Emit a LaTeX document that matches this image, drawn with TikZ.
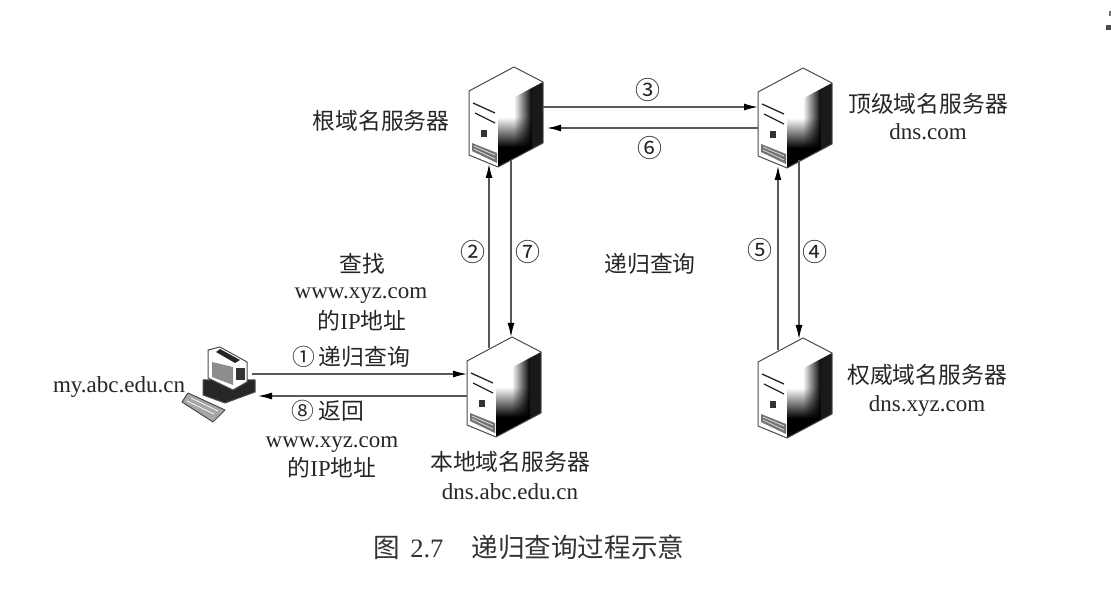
\documentclass[tikz,border=0pt]{standalone}
\usepackage{fontspec}
\setmainfont{Liberation Serif}
\newfontfamily\cjk{Noto Sans CJK SC}
\usetikzlibrary{arrows.meta,shadings,fadings}
\tikzset{
  serverframe/.style={minimum width=74pt,minimum height=100pt,inner sep=0pt,outer sep=0pt},
  pcframe/.style={minimum width=74pt,minimum height=76pt,inner sep=0pt,outer sep=0pt},
  link/.style={line width=1.3pt,draw=black!65,-{Latex[length=14pt,width=7pt,black]}},
  lbl/.style={inner sep=0pt,align=center,text=black!85,font=\fontsize{23}{28}\selectfont},
  num/.style={inner sep=0pt,text=black!85,font=\cjk\fontsize{25}{26}\selectfont},
  zh/.style={inner sep=0pt,align=center,text=black!85,font=\cjk\fontsize{22.8}{29}\selectfont},
  caption/.style={inner sep=0pt,text=black!80,font=\cjk\fontsize{26.6}{28}\selectfont},
  edge/.style={draw=black!70,line width=1pt,line join=round},
}
\newcommand{\serverart}[1]{%
  \begin{scope}[shift={(#1.center)},xshift=8pt,yshift=50pt]
    \path[fill=white] (0,0)--(29,15)--(29,76)--(-16,100)--(-45,88)--(-45,24)--cycle;
    % dark right face
    \begin{scope}
      \clip (-16,39)--(29,15)--(29,76)--(-16,100)--cycle;
      \fill[black,path fading=north] (-16,50) rectangle (29,80);
      \fill[black] (-16,80) rectangle (29,105);
      \fill[black,path fading=west] (0,10) rectangle (18,105);
      \fill[black!90] (18,10) rectangle (29,105);
    \end{scope}
    % front details
    \draw[line width=1.3pt,black!85] (-41,36)--(-19,46);
    \draw[line width=1.3pt,black!85] (-39,46)--(-19,56);
    \fill[black!80] (-33,63) rectangle (-27,70);
    \fill[black!55] (-42,76)--(-17,86)--(-17,96)--(-42,84)--cycle;
    \draw[black!15,line width=.8pt] (-40,79)--(-19,88) (-40,82)--(-19,92);
    \draw[edge] (-45,88)--(-45,24)--(0,0)--(29,15)--(29,76)--(-16,100)--cycle;
  \end{scope}}
\begin{document}
\begin{tikzpicture}[x=1pt,y=-1pt]
\useasboundingbox (0,0) rectangle (1111,609);
% frames for the machines
\node[serverframe] (root) at (506,117) {};
\node[serverframe] (tld) at (795,118) {};
\node[serverframe] (local) at (504,387) {};
\node[serverframe] (auth) at (795,388) {};
\node[pcframe] (pc) at (219,385) {};
\serverart{root}
\serverart{tld}
\serverart{local}
\serverart{auth}
% client computer
\begin{scope}[shift={(pc.center)},xshift=-219pt,yshift=385pt]
  \draw[edge,fill=black!35] (182,402)--(188,393)--(225,410)--(213,422)--cycle;
  \draw[white,line width=.7pt] (187,401)--(214,414) (191,398)--(218,411);
  \draw[edge,fill=black!85] (203,380)--(255,380)--(255,392)--(225,403)--(203,395)--cycle;
  \draw[edge,fill=white] (208,350)--(220,347)--(247,362)--(247,382)--(233,390)--(208,378)--cycle;
  \fill[black!85] (220,349)--(240,360)--(235,363)--(216,352)--cycle;
  \fill[black!45] (212,362)--(233,367)--(233,385)--(212,377)--cycle;
  \fill[black!80] (236,368) rectangle (245,380);
\end{scope}
% connectors
\draw[link] ([yshift=10pt]root.east) -- ([yshift=11pt]tld.west);
\draw[link] ([yshift=-10pt]tld.west) -- ([xshift=4pt,yshift=-11pt]root.east);
\draw[link] ([xshift=-15pt,yshift=-11pt]local.north) -- ([xshift=-17pt,yshift=3pt]root.south);
\draw[link] ([xshift=5pt,yshift=7pt]root.south) -- ([xshift=7pt]local.north);
\draw[link] ([xshift=-17pt,yshift=-12pt]auth.north) -- ([xshift=-17pt,yshift=2pt]tld.south);
\draw[link] ([xshift=4pt,yshift=8pt]tld.south) -- ([xshift=4pt,yshift=-1pt]auth.north);
\draw[link] ([xshift=-4pt,yshift=11pt]pc.east) -- ([yshift=13pt]local.west);
\draw[link] ([yshift=-9pt]local.west) -- ([xshift=2pt,yshift=-11pt]pc.east);
% number marks
\node[num] (n3) at (648,90) {③};
\node[num] (n6) at (650,148) {⑥};
\node[num] (n2) at (473,252) {②};
\node[num] (n7) at (528,252) {⑦};
\node[num] (n5) at (760,250) {⑤};
\node[num] (n4) at (815,252) {④};
% labels
\node[zh] (rootl) at (381,121) {根域名服务器};
\node[zh] (tldl) at (928,104) {顶级域名服务器};
\node[lbl] (tldd) at (928,132) {dns.com};
\node[zh] (rec) at (650,264) {递归查询};
\node[zh] (find) at (362,264) {查找};
\node[lbl] (w1) at (361,296) {www.xyz.com};
\node[zh] (ip1) at (362,321) {的{\fontspec{Liberation Serif}IP}地址};
\node[zh] (q1) at (351,357) {①\,递归查询};
\node[zh] (q8) at (328,411) {⑧\,返回};
\node[lbl] (w2) at (332,445) {www.xyz.com};
\node[zh] (ip2) at (332,468) {的{\fontspec{Liberation Serif}IP}地址};
\node[zh] (locl) at (510,462) {本地域名服务器};
\node[lbl] (locd) at (510,492) {dns.abc.edu.cn};
\node[lbl] (my) at (119,387) {my.abc.edu.cn};
\node[zh] (authl) at (927,375) {权威域名服务器};
\node[lbl] (authd) at (927,406) {dns.xyz.com};
\node[caption] (cap) at (529,547) {图\hspace{10pt}{\fontspec{Liberation Serif}2.7}\hspace{28pt}递归查询过程示意};
% scan marks at the page corner
\fill[black!55] (1109,11) rectangle (1111,16);
\fill[black!70] (1106,25) rectangle (1111,30);
\end{tikzpicture}
\end{document}
